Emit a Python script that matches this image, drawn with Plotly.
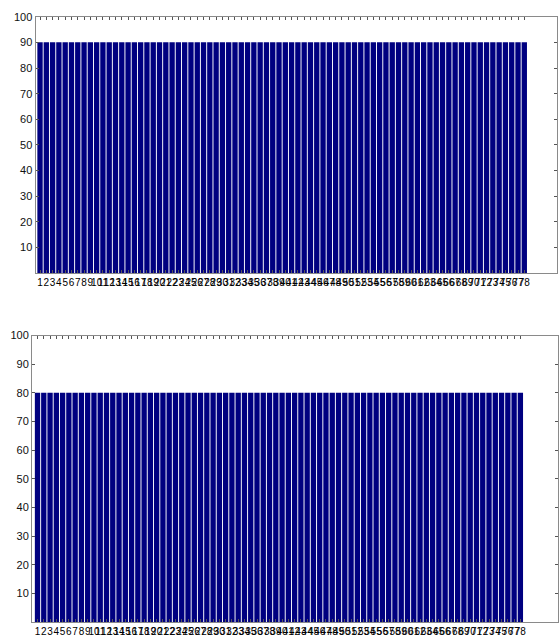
import plotly.graph_objects as go

categories = list(range(1, 79))
tick_labels = [str(c) for c in categories]
values_top = [90] * 78
values_bottom = [80] * 78
y_ticks = [10, 20, 30, 40, 50, 60, 70, 80, 90, 100]

W, H = 560, 637
bar_color = "#000080"

fig = go.Figure()
fig.add_trace(go.Bar(x=categories, y=values_top, marker=dict(color=bar_color, line=dict(width=0)),
                     xaxis="x", yaxis="y", showlegend=False))
fig.add_trace(go.Bar(x=categories, y=values_bottom, marker=dict(color=bar_color, line=dict(width=0)),
                     xaxis="x2", yaxis="y2", showlegend=False))

axis_common = dict(showgrid=False, zeroline=False, showline=True, linecolor="#8a8a8a", linewidth=1,
                   mirror="ticks", ticks="inside", ticklen=3, tickcolor="#555555", tickwidth=1)

xax = dict(axis_common, tickmode="array", tickvals=categories, ticktext=tick_labels, tickangle=0,
           tickfont=dict(family="Liberation Sans", size=10, color="#000000"))
yax = dict(axis_common, range=[0, 100], tickmode="array", tickvals=y_ticks,
           ticktext=[str(v) for v in y_ticks],
           tickfont=dict(family="Liberation Sans", size=11, color="#111111"))

fig.update_layout(
    width=W, height=H, margin=dict(l=0, r=0, t=0, b=0),
    paper_bgcolor="white", plot_bgcolor="white",
    bargap=0.15,
    xaxis=dict(xax, domain=[35.5 / W, 557 / W], range=[0.28, 83.2], anchor="y"),
    yaxis=dict(yax, domain=[1 - 274 / H, 1 - 11 / H], anchor="x"),
    xaxis2=dict(xax, domain=[32 / W, 558 / W], range=[0.12, 84.0], anchor="y2"),
    yaxis2=dict(yax, domain=[1 - 632 / H, 1 - 338 / H], anchor="x2"),
)

fig.write_html("out.html")
